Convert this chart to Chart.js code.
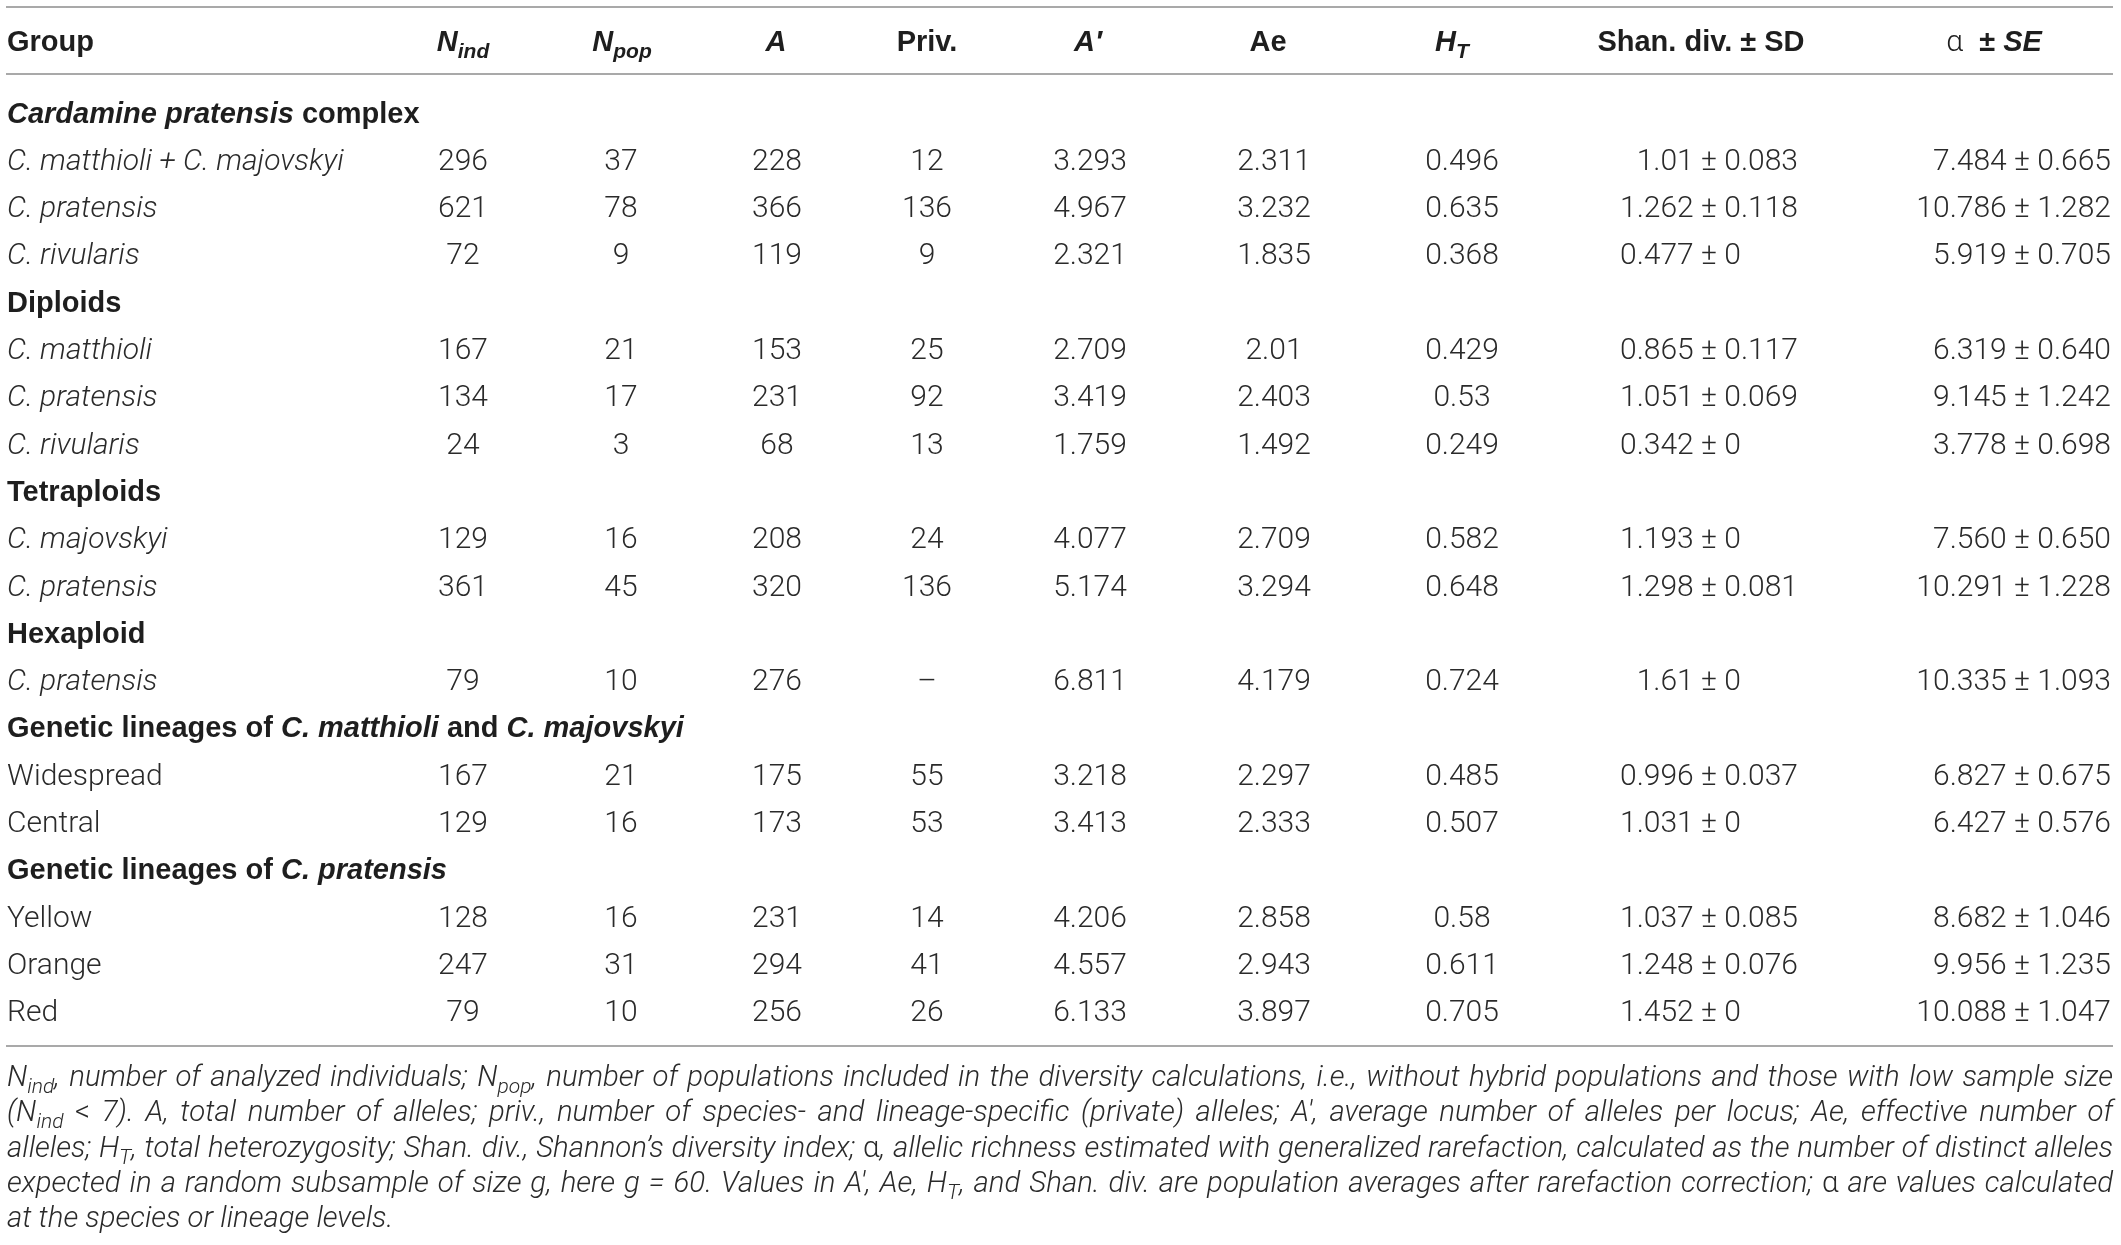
<!DOCTYPE html>
<html>
<head>
<meta charset="utf-8">
<script src="https://cdn.jsdelivr.net/npm/chart.js@4.4.1/dist/chart.umd.min.js"></script>
<style>
  html, body { margin: 0; padding: 0; background: #fff; }
  #wrap { width: 2121px; height: 1245px; }
</style>
</head>
<body>
<div id="wrap"><canvas id="tbl" width="2121" height="1245"></canvas></div>
<script>
// ---- data (markup: *italic*, ~subscript~, ^upright^) ----
const columnNames = ["Group", "*N*~ind~", "*N*~pop~", "*A*", "Priv.", "*A′*", "Ae", "*H*~T~", "Shan. div. ± SD", "^α^  ± *SE*"];

const groups = [
  "*Cardamine pratensis* complex",
  "*C. matthioli + C. majovskyi*", "*C. pratensis*", "*C. rivularis*",
  "Diploids",
  "*C. matthioli*", "*C. pratensis*", "*C. rivularis*",
  "Tetraploids",
  "*C. majovskyi*", "*C. pratensis*",
  "Hexaploid",
  "*C. pratensis*",
  "Genetic lineages of *C. matthioli* and *C. majovskyi*",
  "Widespread", "Central",
  "Genetic lineages of *C. pratensis*",
  "Yellow", "Orange", "Red"
];
const sectionRows = [0, 4, 8, 11, 13, 16];

const nInd    = [null, 296, 621, 72,  null, 167, 134, 24,  null, 129, 361, null, 79,  null, 167, 129, null, 128, 247, 79];
const nPop    = [null, 37,  78,  9,   null, 21,  17,  3,   null, 16,  45,  null, 10,  null, 21,  16,  null, 16,  31,  10];
const alleles = [null, 228, 366, 119, null, 153, 231, 68,  null, 208, 320, null, 276, null, 175, 173, null, 231, 294, 256];
const priv    = [null, 12,  136, 9,   null, 25,  92,  13,  null, 24,  136, null, null, null, 55, 53,  null, 14,  41,  26];
const aPrime  = [null, 3.293, 4.967, 2.321, null, 2.709, 3.419, 1.759, null, 4.077, 5.174, null, 6.811, null, 3.218, 3.413, null, 4.206, 4.557, 6.133];
const ae      = [null, 2.311, 3.232, 1.835, null, 2.01, 2.403, 1.492, null, 2.709, 3.294, null, 4.179, null, 2.297, 2.333, null, 2.858, 2.943, 3.897];
const hT      = [null, 0.496, 0.635, 0.368, null, 0.429, 0.53, 0.249, null, 0.582, 0.648, null, 0.724, null, 0.485, 0.507, null, 0.58, 0.611, 0.705];
const shanDiv = [null, 1.01, 1.262, 0.477, null, 0.865, 1.051, 0.342, null, 1.193, 1.298, null, 1.61, null, 0.996, 1.031, null, 1.037, 1.248, 1.452];
const shanSD  = [null, 0.083, 0.118, 0, null, 0.117, 0.069, 0, null, 0, 0.081, null, 0, null, 0.037, 0, null, 0.085, 0.076, 0];
const alpha   = [null, 7.484, 10.786, 5.919, null, 6.319, 9.145, 3.778, null, 7.560, 10.291, null, 10.335, null, 6.827, 6.427, null, 8.682, 9.956, 10.088];
const alphaSE = [null, 0.665, 1.282, 0.705, null, 0.640, 1.242, 0.698, null, 0.650, 1.228, null, 1.093, null, 0.675, 0.576, null, 1.046, 1.235, 1.047];

const footnote = [
  "N~ind~, number of analyzed individuals; N~pop~, number of populations included in the diversity calculations, i.e., without hybrid populations and those with low sample size",
  "(N~ind~ ^<^ 7). A, total number of alleles; priv., number of species- and lineage-specific (private) alleles; A′, average number of alleles per locus; Ae, effective number of",
  "alleles; H~T~, total heterozygosity; Shan. div., Shannon’s diversity index; ^α^, allelic richness estimated with generalized rarefaction, calculated as the number of distinct alleles",
  "expected in a random subsample of size g, here g = 60. Values in A′, Ae, H~T~, and Shan. div. are population averages after rarefaction correction; ^α^ are values calculated",
  "at the species or lineage levels."
];

// ---- look ----
const SANS = '"Liberation Sans", Arial, sans-serif';
const LIGHT = 'Roboto, sans-serif';
const HEAD = { base: `bold 29px ${SANS}`, ital: `italic bold 29px ${SANS}`, sub: `italic bold 21px ${SANS}`, subDy: 7, up: `300 30px ${LIGHT}` };
const BODY = { base: `300 30px ${LIGHT}`, ital: `italic 300 30px ${LIGHT}`, sub: `italic 300 21px ${LIGHT}`, subDy: 7, up: `300 30px ${LIGHT}` };
const noteFonts = size => ({
  base: `italic 300 ${size}px ${LIGHT}`, ital: `italic 300 ${size}px ${LIGHT}`,
  sub: `italic 300 ${Math.round(size * 0.72)}px ${LIGHT}`, subDy: Math.round(size * 0.25),
  up: `300 ${size}px ${LIGHT}`
});

const headX = [7, 463, 622, 776, 927, 1088, 1268, 1452, 1701, 1994];
const valX  = [7, 463, 621, 777, 927, 1090, 1274, 1462, 1709, 2111];
const ROW_PX = 47.3, FIRST_ROW_PX = 112;

function parse(str, F) {
  const out = [];
  str.split(/(\*[^*]+\*|~[^~]+~|\^[^\^]+\^)/).forEach(seg => {
    if (!seg) return;
    if (seg[0] === '*') out.push({ t: seg.slice(1, -1), f: F.ital, dy: 0 });
    else if (seg[0] === '~') out.push({ t: seg.slice(1, -1), f: F.sub, dy: F.subDy });
    else if (seg[0] === '^') out.push({ t: seg.slice(1, -1), f: F.up, dy: 0 });
    else out.push({ t: seg, f: F.base, dy: 0 });
  });
  return out;
}

function tokens(ctx, runs) {
  const toks = [];
  runs.forEach(r => r.t.split(/( )/).forEach(p => { if (p) toks.push({ t: p, f: r.f, dy: r.dy, sp: p === ' ' }); }));
  toks.forEach(k => { ctx.font = k.f; k.w = ctx.measureText(k.t).width; });
  return toks;
}

function drawRuns(ctx, runs, x, y, align, justifyW) {
  const toks = tokens(ctx, runs);
  let total = toks.reduce((s, k) => s + k.w, 0);
  let extra = 0;
  if (justifyW) {
    const n = toks.filter(k => k.sp).length;
    if (n) extra = (justifyW - total) / n;
    total = justifyW;
  }
  let cx = align === 'center' ? x - total / 2 : align === 'right' ? x - total : x;
  ctx.textAlign = 'left';
  ctx.textBaseline = 'alphabetic';
  toks.forEach(k => {
    if (k.sp) { cx += k.w + extra; return; }
    ctx.font = k.f;
    ctx.fillText(k.t, cx, y + k.dy);
    cx += k.w;
  });
}

const fmtPlain = v => String(v);
const columns = [
  { values: nInd, fmt: fmtPlain },
  { values: nPop, fmt: fmtPlain },
  { values: alleles, fmt: fmtPlain },
  { values: priv, fmt: fmtPlain },
  { values: aPrime, fmt: v => v.toFixed(3) },
  { values: ae, fmt: fmtPlain },
  { values: hT, fmt: fmtPlain },
  { values: shanDiv, err: shanSD, fmt: fmtPlain, pm: true },
  { values: alpha, err: alphaSE, fmt: v => v.toFixed(3), right: true }
];

// one invisible dataset per column, the plugin writes the text at each point
const datasets = [{
  label: columnNames[0],
  data: groups.map((g, i) => ({ x: valX[0], y: i }))
}].concat(columns.map((c, ci) => ({
  label: columnNames[ci + 1],
  data: groups.map((g, i) => ({ x: valX[ci + 1], y: i }))
})));

const tablePlugin = {
  id: 'tableText',
  afterDatasetsDraw(chart) {
    const ctx = chart.ctx;
    const ys = chart.scales.y, xs = chart.scales.x;
    const left = xs.getPixelForValue(6), right = xs.getPixelForValue(2113);
    ctx.save();

    // rules
    ctx.strokeStyle = '#a9a9a9';
    ctx.lineWidth = 2;
    [-2.22, -0.80, 19.75].forEach(v => {
      const y = Math.round(ys.getPixelForValue(v));
      ctx.beginPath(); ctx.moveTo(left, y); ctx.lineTo(right, y); ctx.stroke();
    });

    // header
    ctx.fillStyle = '#1e1e1e';
    const hy = ys.getPixelForValue(-1.5) + 10;
    columnNames.forEach((n, i) => {
      drawRuns(ctx, parse(n, HEAD), xs.getPixelForValue(headX[i]), hy, i === 0 ? 'left' : 'center');
    });

    // group labels
    chart.getDatasetMeta(0).data.forEach((pt, i) => {
      const sec = sectionRows.includes(i);
      ctx.fillStyle = sec ? '#1e1e1e' : '#2a2a2a';
      drawRuns(ctx, parse(groups[i], sec ? HEAD : BODY), pt.x, pt.y + 10.5, 'left');
    });

    // cells
    ctx.fillStyle = '#2a2a2a';
    columns.forEach((c, ci) => {
      chart.getDatasetMeta(ci + 1).data.forEach((pt, i) => {
        if (sectionRows.includes(i)) return;
        const v = c.values[i];
        const y = pt.y + 10.5;
        if (v == null) { drawRuns(ctx, parse('–', BODY), pt.x, y, 'center'); return; }
        if (c.pm) {
          const m = c.fmt(v) + ' ';
          ctx.font = BODY.base;
          const off = ctx.measureText(m).width + ctx.measureText('±').width / 2;
          drawRuns(ctx, parse(`${m}± ${String(c.err[i])}`, BODY), pt.x - off, y, 'left');
        } else if (c.right) {
          drawRuns(ctx, parse(`${c.fmt(v)} ± ${c.err[i].toFixed(3)}`, BODY), pt.x, y, 'right');
        } else {
          drawRuns(ctx, parse(c.fmt(v), BODY), pt.x, y, 'center');
        }
      });
    });

    // footnote: size chosen so the widest full line just fits, then justified
    const W = right - left - 1;
    let widest = 0;
    footnote.slice(0, -1).forEach(line => {
      const w = tokens(ctx, parse(line, noteFonts(26))).reduce((s, k) => s + k.w, 0);
      widest = Math.max(widest, w);
    });
    const size = Math.min(30, Math.floor(26 * W / widest * 10) / 10 - 0.2);
    const NOTE = noteFonts(size);
    ctx.fillStyle = '#2a2a2a';
    const ruleY = ys.getPixelForValue(19.75);
    footnote.forEach((line, k) => {
      const y = ruleY + 40 + k * 35.3;
      const last = k === footnote.length - 1;
      drawRuns(ctx, parse(line, NOTE), left + 1, y, 'left', last ? 0 : W);
    });
    ctx.restore();
  }
};

function build() {
  const H = 1245;
  const yMin = -FIRST_ROW_PX / ROW_PX;
  const yMax = yMin + H / ROW_PX;
  new Chart(document.getElementById('tbl').getContext('2d'), {
    type: 'scatter',
    data: { datasets },
    options: {
      responsive: false,
      animation: false,
      devicePixelRatio: 1,
      layout: { padding: 0 },
      elements: { point: { radius: 0, hoverRadius: 0 } },
      scales: {
        x: { type: 'linear', min: 0, max: 2121, display: false },
        y: { type: 'linear', min: yMin, max: yMax, reverse: true, display: false }
      },
      plugins: { legend: { display: false }, tooltip: { enabled: false } }
    },
    plugins: [tablePlugin]
  });
}

Promise.all([
  document.fonts.load(`300 30px Roboto`),
  document.fonts.load(`italic 300 30px Roboto`),
  document.fonts.load(`bold 29px "Liberation Sans"`),
  document.fonts.load(`italic bold 29px "Liberation Sans"`)
]).then(build, build);
</script>
</body>
</html>
